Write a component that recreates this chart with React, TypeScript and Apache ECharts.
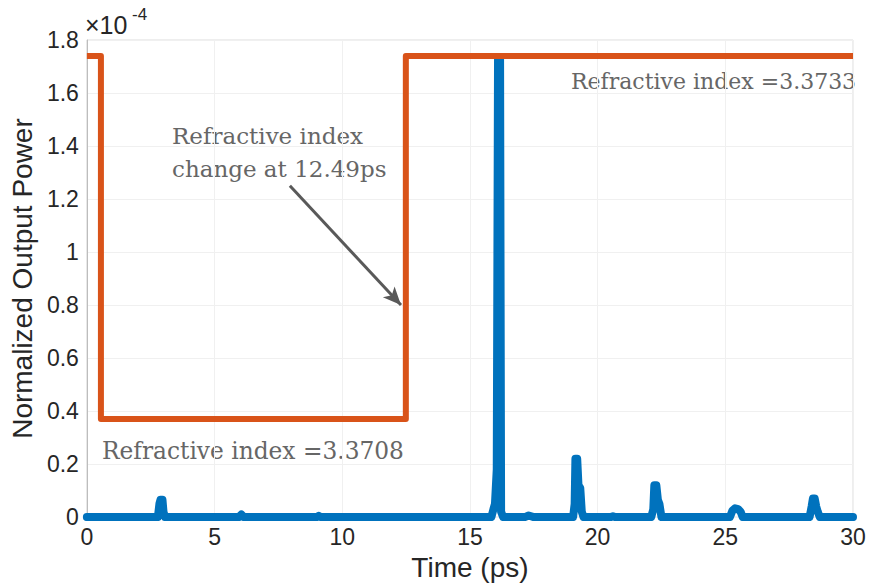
import React, { useEffect, useRef } from "react";
import * as echarts from "echarts";

// Normalized output power (×1e-4) vs time (ps)
const blueTime = [
  0, 2.78, 2.84, 2.88, 2.96, 3.0, 3.06,
  5.95, 6.05, 6.15, 9.0, 9.08, 9.16,
  15.84, 15.92, 15.98, 16.05, 16.1, 16.18, 16.22, 16.3,
  17.15, 17.3, 17.5,
  19.04, 19.1, 19.13, 19.2, 19.25, 19.32, 19.38, 19.45,
  20.5, 20.6, 20.7,
  22.1, 22.18, 22.22, 22.3, 22.36, 22.42, 22.5,
  25.18, 25.28, 25.38, 25.5, 25.6, 25.68,
  28.3, 28.38, 28.43, 28.5, 28.56, 28.62, 28.7,
  30,
];
const bluePower = [
  0, 0, 0.05, 0.065, 0.065, 0.02, 0,
  0, 0.01, 0, 0, 0.005, 0,
  0, 0.03, 0.05, 0.18, 1.73, 1.73, 0.02, 0,
  0, 0.006, 0,
  0, 0.05, 0.22, 0.22, 0.12, 0.11, 0.02, 0,
  0, 0.003, 0,
  0, 0.03, 0.12, 0.12, 0.065, 0.05, 0,
  0, 0.025, 0.033, 0.03, 0.02, 0,
  0, 0.04, 0.07, 0.07, 0.04, 0.02, 0,
  0,
];

const orangeTime = [0, 0.55, 0.55, 12.49, 12.49, 30];
const orangeLevel = [1.74, 1.74, 0.37, 0.37, 1.74, 1.74];

const xTicks = [0, 5, 10, 15, 20, 25, 30];
const yTicks = [0, 0.2, 0.4, 0.6, 0.8, 1, 1.2, 1.4, 1.6, 1.8];

const arrowStart = [7.95, 1.25];
const arrowEnd = [12.3, 0.8];

const textHigh = "Refractive index =3.3733";
const textLow = "Refractive index =3.3708";
const textChange = "Refractive index\nchange at 12.49ps";

export default function App() {
  const ref = useRef<HTMLDivElement>(null);
  useEffect(() => {
    if (!ref.current) return;
    const chart = echarts.init(ref.current, null, { renderer: "svg" });
    const sans = "'Liberation Sans', Arial, Helvetica, sans-serif";
    const serif = "'DejaVu Serif', serif";
    chart.setOption({
      animation: false,
      backgroundColor: "#ffffff",
      grid: {
        left: 83,
        right: 17,
        top: 40,
        bottom: 63,
        show: true,
        borderColor: "#dcdcdc",
        borderWidth: 1,
      },
      xAxis: {
        type: "value",
        min: 0,
        max: 30,
        interval: 5,
        name: "Time (ps)",
        nameLocation: "middle",
        nameGap: 29,
        nameTextStyle: { fontFamily: sans, fontSize: 28, color: "#262626" },
        axisLine: { show: false },
        axisTick: { show: false },
        axisLabel: {
          fontFamily: sans,
          fontSize: 23,
          color: "#262626",
          margin: 8,
          formatter: (v: number) => (xTicks.includes(v) ? String(v) : ""),
        },
        splitLine: { show: true, lineStyle: { color: "#f0f0f0", width: 1 } },
      },
      yAxis: {
        type: "value",
        min: 0,
        max: 1.8,
        interval: 0.2,
        name: "Normalized Output Power",
        nameLocation: "middle",
        nameGap: 47,
        nameTextStyle: { fontFamily: sans, fontSize: 28, color: "#262626" },
        axisLine: { show: true, lineStyle: { color: "#bdbdbd", width: 1 } },
        axisTick: { show: false },
        axisLabel: {
          fontFamily: sans,
          fontSize: 23,
          color: "#262626",
          margin: 8,
          formatter: (v: number) => {
            const t = yTicks.find((y) => Math.abs(y - v) < 1e-9);
            if (t === undefined) return "";
            return t === 0 ? "0" : t === 1 ? "1" : t.toFixed(1);
          },
        },
        splitLine: { show: true, lineStyle: { color: "#f0f0f0", width: 1 } },
      },
      series: [
        {
          type: "line",
          data: blueTime.map((t, i) => [t, bluePower[i]]),
          showSymbol: false,
          symbol: "none",
          lineStyle: { color: "#0072BD", width: 8, cap: "round", join: "round" },
          z: 2,
        },
        {
          type: "line",
          data: orangeTime.map((t, i) => [t, orangeLevel[i]]),
          showSymbol: false,
          symbol: "none",
          lineStyle: { color: "#D95319", width: 6, join: "round" },
          z: 3,
          markLine: {
            silent: true,
            symbol: ["none", "arrow"],
            symbolSize: [12, 18],
            label: { show: false },
            lineStyle: { color: "#595959", width: 3, type: "solid" },
            data: [[{ coord: arrowStart }, { coord: arrowEnd }]],
          },
        },
      ],
      graphic: [
        {
          type: "text",
          left: 85,
          top: 12,
          style: { text: "×10", fontFamily: sans, fontSize: 25, fill: "#262626" },
        },
        {
          type: "text",
          left: 132,
          top: 6,
          style: { text: "-4", fontFamily: sans, fontSize: 17, fill: "#262626" },
        },
        {
          type: "text",
          left: 571,
          top: 70,
          style: { text: textHigh, fontFamily: serif, fontSize: 22, fill: "#666666" },
        },
        {
          type: "text",
          left: 102,
          top: 439,
          style: { text: textLow, fontFamily: serif, fontSize: 23.3, fill: "#666666" },
        },
        {
          type: "text",
          left: 172,
          top: 119,
          style: { text: textChange, fontFamily: serif, fontSize: 23, fill: "#666666", lineHeight: 33 },
        },
      ],
    });
    return () => chart.dispose();
  }, []);
  return (
    <div
      ref={ref}
      style={{ position: "fixed", left: 0, top: 0, width: 870, height: 586 }}
    />
  );
}
